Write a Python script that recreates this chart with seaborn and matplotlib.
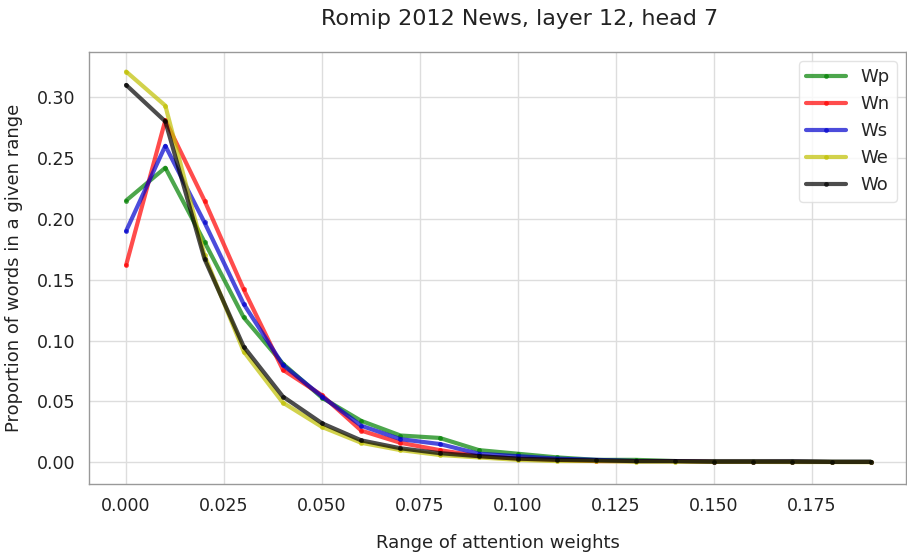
import numpy as np
import pandas as pd
import matplotlib
matplotlib.use("Agg")
import matplotlib.pyplot as plt
import seaborn as sns

x_vals = [round(0.01 * i, 2) for i in range(20)]
wp = [0.215, 0.242, 0.181, 0.119, 0.081, 0.053, 0.034, 0.022, 0.020, 0.010, 0.007, 0.004, 0.002, 0.002, 0.001, 0.001, 0.001, 0.001, 0.0005, 0.0005]
wn = [0.162, 0.281, 0.215, 0.142, 0.076, 0.055, 0.026, 0.016, 0.010, 0.005, 0.003, 0.002, 0.001, 0.001, 0.001, 0.0005, 0.0005, 0.0005, 0.0003, 0.0003]
ws = [0.190, 0.260, 0.197, 0.130, 0.080, 0.054, 0.030, 0.019, 0.015, 0.007, 0.005, 0.003, 0.002, 0.001, 0.001, 0.0005, 0.0005, 0.0005, 0.0003, 0.0003]
we = [0.321, 0.293, 0.170, 0.091, 0.049, 0.029, 0.016, 0.010, 0.006, 0.004, 0.002, 0.001, 0.001, 0.0005, 0.0005, 0.0003, 0.0003, 0.0002, 0.0002, 0.0001]
wo = [0.310, 0.280, 0.167, 0.095, 0.054, 0.032, 0.018, 0.0115, 0.0075, 0.005, 0.003, 0.002, 0.0015, 0.001, 0.001, 0.0005, 0.0005, 0.0005, 0.0003, 0.0003]
series_names = ["Wp", "Wn", "Ws", "We", "Wo"]
series_vals = [wp, wn, ws, we, wo]
colors = ["#008000", "#ff0000", "#0000cc", "#c0c000", "#000000"]

rows = []
for name, vals in zip(series_names, series_vals):
    for xv, yv in zip(x_vals, vals):
        rows.append({"x": xv, "y": yv, "series": name})
df = pd.DataFrame(rows)

sns.set_theme(style="whitegrid")
plt.rcParams['font.family'] = ['DejaVu Sans']

fig = plt.figure(figsize=(9.07, 5.54), dpi=100)
ax = fig.add_axes([0.098, 0.126, 0.901, 0.780])

sns.lineplot(data=df, x="x", y="y", hue="series", palette=dict(zip(series_names, colors)),
             marker="o", markersize=3.5, markeredgewidth=0, linewidth=3, alpha=0.7, ax=ax)

ax.set_xticks([0.0, 0.025, 0.05, 0.075, 0.1, 0.125, 0.15, 0.175])
ax.set_xticklabels(["0.000", "0.025", "0.050", "0.075", "0.100", "0.125", "0.150", "0.175"])
ax.set_yticks([0.0, 0.05, 0.10, 0.15, 0.20, 0.25, 0.30])
ax.set_yticklabels(["0.00", "0.05", "0.10", "0.15", "0.20", "0.25", "0.30"])
ax.set_xlim(-0.0095, 0.199)
ax.set_ylim(-0.018, 0.337)
ax.tick_params(labelsize=12.5, colors="#222222")
ax.grid(color="#dddddd", linewidth=1)
for s in ax.spines.values():
    s.set_color("#999999")
    s.set_linewidth(1)

ax.set_xlabel("Range of attention weights", fontsize=13, color="#222222")
ax.xaxis.set_label_coords(0.5, -0.137)
ax.xaxis.label.set_va("center")
ax.set_ylabel("Proportion of words in a given range", fontsize=13, labelpad=10, color="#222222")
fig.text(0.573, 0.965, "Romip 2012 News, layer 12, head 7", fontsize=16, ha="center", va="center", color="#222222")

leg = ax.legend(loc="upper right", fontsize=13, frameon=True, handlelength=2.2)
for h in leg.get_lines():
    h.set_linewidth(3)
    h.set_alpha(0.7)
leg.get_frame().set_edgecolor("#dddddd")

fig.savefig("out.png", dpi=100)
